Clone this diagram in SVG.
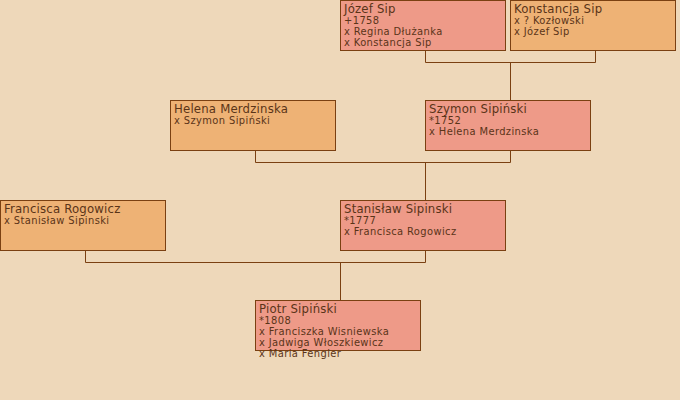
<svg xmlns="http://www.w3.org/2000/svg" width="680" height="400" viewBox="0 0 680 400">
<style>
.m{fill:#EE9A88;stroke:#7A4012;stroke-width:1}
.f{fill:#EEB275;stroke:#7A4012;stroke-width:1}
text{font-family:"DejaVu Sans Condensed","DejaVu Sans",sans-serif;fill:#5A3418;font-size:11px;letter-spacing:0.4px}
.n{font-size:13px;letter-spacing:0.2px}
.c{fill:none;stroke:#7A4012;stroke-width:1}
</style>
<rect width="680" height="400" fill="#EED8BA"/>
<g id="connectors">
<polyline class="c" points="425.5,50 425.5,62.5 595.5,62.5 595.5,50"/>
<line class="c" x1="510.5" y1="62.5" x2="510.5" y2="100"/>
<polyline class="c" points="255.5,150 255.5,162.5 510.5,162.5 510.5,150"/>
<line class="c" x1="425.5" y1="162.5" x2="425.5" y2="200"/>
<polyline class="c" points="85.5,250 85.5,262.5 425.5,262.5 425.5,250"/>
<line class="c" x1="340.5" y1="262.5" x2="340.5" y2="300"/>
</g>
<g id="jozef">
<rect class="m" x="340.5" y="0.5" width="165" height="50"/>
<text x="344" y="13" class="n">Józef Sip</text>
<text x="344" y="24">+1758</text>
<text x="344" y="35">x Regina Dłużanka</text>
<text x="344" y="46">x Konstancja Sip</text>
</g>
<g id="konstancja">
<rect class="f" x="510.5" y="0.5" width="165" height="50"/>
<text x="514" y="13" class="n">Konstancja Sip</text>
<text x="514" y="24">x ? Kozłowski</text>
<text x="514" y="35">x Józef Sip</text>
</g>
<g id="helena">
<rect class="f" x="170.5" y="100.5" width="165" height="50"/>
<text x="174" y="113" class="n">Helena Merdzinska</text>
<text x="174" y="124">x Szymon Sipiński</text>
</g>
<g id="szymon">
<rect class="m" x="425.5" y="100.5" width="165" height="50"/>
<text x="429" y="113" class="n">Szymon Sipiński</text>
<text x="429" y="124">*1752</text>
<text x="429" y="135">x Helena Merdzinska</text>
</g>
<g id="francisca">
<rect class="f" x="0.5" y="200.5" width="165" height="50"/>
<text x="4" y="213" class="n">Francisca Rogowicz</text>
<text x="4" y="224">x Stanisław Sipinski</text>
</g>
<g id="stanislaw">
<rect class="m" x="340.5" y="200.5" width="165" height="50"/>
<text x="344" y="213" class="n">Stanisław Sipinski</text>
<text x="344" y="224">*1777</text>
<text x="344" y="235">x Francisca Rogowicz</text>
</g>
<g id="piotr">
<rect class="m" x="255.5" y="300.5" width="165" height="50"/>
<text x="259" y="313" class="n">Piotr Sipiński</text>
<text x="259" y="324">*1808</text>
<text x="259" y="335">x Franciszka Wisniewska</text>
<text x="259" y="346">x Jadwiga Włoszkiewicz</text>
<text x="259" y="357">x Maria Fengler</text>
</g>
</svg>
